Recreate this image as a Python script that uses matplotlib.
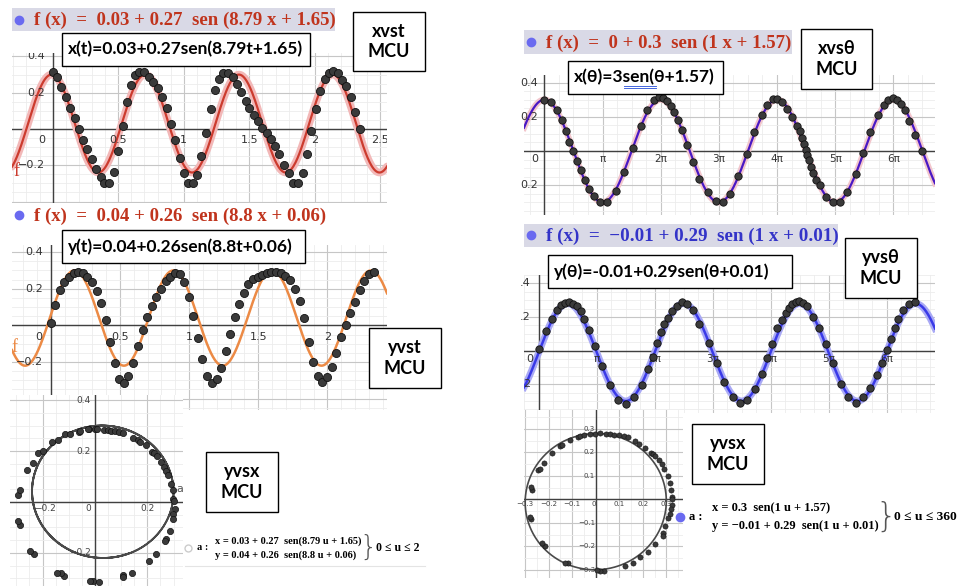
import numpy as np
import matplotlib.pyplot as plt
from matplotlib.patches import Rectangle
from matplotlib.lines import Line2D
from matplotlib.ticker import MultipleLocator

# ---- datos ----
# x vs t
xt_t = [0.000, 0.036, 0.066, 0.102, 0.132, 0.168, 0.198, 0.232, 0.265, 0.298,
        0.333, 0.366, 0.394, 0.433, 0.468, 0.501, 0.534, 0.567, 0.601, 0.631,
        0.662, 0.697, 0.735, 0.768, 0.804, 0.837, 0.870, 0.903, 0.936, 0.969,
        1.000, 1.036, 1.069, 1.102, 1.135, 1.170, 1.204, 1.237, 1.270, 1.303,
        1.336, 1.372, 1.405, 1.435, 1.471, 1.501, 1.534, 1.567, 1.598, 1.634,
        1.664, 1.697, 1.730, 1.766, 1.799, 1.832, 1.870, 1.906, 1.939, 1.972,
        2.005, 2.041, 2.074, 2.107, 2.140, 2.173, 2.206, 2.239, 2.275, 2.308, 2.341]
xt_x = [0.313, 0.284, 0.233, 0.178, 0.115, 0.058, 0.000, -0.062, -0.113, -0.167,
        -0.222, -0.267, -0.298, -0.295, -0.236, -0.124, 0.018, 0.149, 0.242, 0.296,
        0.316, 0.315, 0.287, 0.260, 0.224, 0.178, 0.115, 0.029, -0.062, -0.160,
        -0.242, -0.295, -0.300, -0.253, -0.149, -0.022, 0.113, 0.215, 0.278, 0.309,
        0.309, 0.287, 0.247, 0.202, 0.156, 0.118, 0.078, 0.042, 0.005, -0.022,
        -0.055, -0.095, -0.140, -0.198, -0.244, -0.295, -0.295, -0.240, -0.138, -0.009,
        0.111, 0.211, 0.276, 0.309, 0.318, 0.311, 0.269, 0.236, 0.175, 0.091, 0.000]
xt_fit = [0.03, 0.27, 8.79, 1.65]

# y vs t
yt_t = [0.000, 0.034, 0.065, 0.099, 0.133, 0.166, 0.200, 0.234, 0.265, 0.299,
        0.333, 0.364, 0.398, 0.431, 0.465, 0.496, 0.528, 0.561, 0.598, 0.634,
        0.667, 0.699, 0.733, 0.764, 0.798, 0.831, 0.865, 0.899, 0.933, 0.964,
        0.998, 1.031, 1.063, 1.096, 1.130, 1.164, 1.198, 1.229, 1.263, 1.296,
        1.330, 1.361, 1.395, 1.429, 1.463, 1.496, 1.530, 1.564, 1.595, 1.629,
        1.663, 1.696, 1.730, 1.764, 1.800, 1.831, 1.865, 1.896, 1.928, 1.961,
        1.995, 2.031, 2.065, 2.099, 2.133, 2.166, 2.200, 2.234, 2.267, 2.301, 2.335]
yt_y = [0.011, 0.113, 0.193, 0.236, 0.265, 0.284, 0.291, 0.287, 0.265, 0.235,
        0.189, 0.124, 0.029, -0.089, -0.204, -0.293, -0.316, -0.275, -0.204, -0.113,
        -0.025, 0.047, 0.105, 0.156, 0.200, 0.240, 0.265, 0.284, 0.280, 0.236,
        0.156, 0.051, -0.071, -0.185, -0.275, -0.313, -0.293, -0.231, -0.140, -0.047,
        0.044, 0.116, 0.178, 0.225, 0.251, 0.265, 0.276, 0.287, 0.293, 0.293,
        0.284, 0.269, 0.247, 0.200, 0.133, 0.038, -0.089, -0.198, -0.275, -0.309,
        -0.280, -0.225, -0.149, -0.062, 0.002, 0.065, 0.129, 0.193, 0.244, 0.280, 0.291]
yt_fit = [0.04, 0.26, 8.8, 0.06]

# y vs x (t)
cx_x = [0.000, -0.022, 0.009, 0.036, 0.048, 0.061, 0.076, 0.092, 0.108, 0.146,
        0.166, 0.172, 0.194, 0.217, 0.225, 0.238, 0.252, 0.265, 0.273, 0.278,
        0.289, 0.297, 0.299, 0.301, 0.304, 0.299, 0.297, 0.287, 0.270, 0.268,
        0.232, 0.205, 0.140, 0.106, 0.108, -0.006, -0.019, 0.014, -0.118, -0.131,
        -0.144, -0.232, -0.246, -0.287, -0.293, -0.293, -0.287, -0.259, -0.236, -0.217,
        -0.200, -0.163, -0.140, -0.115, -0.096, -0.061, -0.057, -0.025]
cx_y = [0.285, 0.285, 0.285, 0.282, 0.281, 0.280, 0.277, 0.273, 0.269, 0.252,
        0.243, 0.235, 0.222, 0.197, 0.191, 0.180, 0.157, 0.139, 0.122, 0.107,
        0.069, 0.047, 0.012, 0.005, -0.029, -0.048, -0.068, -0.115, -0.145, -0.152,
        -0.204, -0.230, -0.277, -0.288, -0.295, -0.311, -0.310, -0.314, -0.290, -0.280,
        -0.277, -0.205, -0.191, -0.090, -0.075, 0.027, 0.047, 0.125, 0.154, 0.191,
        0.200, 0.234, 0.243, 0.265, 0.267, 0.276, 0.278, 0.285]

# x vs theta
xth_th = [0.000, 0.360, 0.666, 0.936, 1.170, 1.350, 1.566, 1.764, 1.962, 2.196,
          2.430, 2.700, 3.007, 3.367, 3.853, 4.303, 4.771, 5.203, 5.563, 5.923,
          6.211, 6.427, 6.643, 6.841, 7.021, 7.201, 7.417, 7.705, 8.047, 8.371,
          8.821, 9.272, 9.632, 10.028, 10.478, 10.928, 11.324, 11.738, 12.044, 12.332,
          12.584, 12.854, 13.124, 13.394, 13.628, 13.808, 13.934, 14.024, 14.132, 14.204,
          14.312, 14.420, 14.528, 14.672, 14.888, 15.212, 15.609, 15.969, 16.365, 16.833,
          17.229, 17.589, 18.003, 18.345, 18.579, 18.813, 19.029, 19.263, 19.479, 19.713,
          20.037, 20.379]
xth_x = [0.300, 0.284, 0.237, 0.182, 0.118, 0.055, 0.000, -0.057, -0.112, -0.167,
         -0.220, -0.265, -0.298, -0.298, -0.233, -0.124, 0.020, 0.147, 0.241, 0.296,
         0.316, 0.310, 0.290, 0.261, 0.227, 0.182, 0.124, 0.035, -0.063, -0.161,
         -0.239, -0.294, -0.298, -0.249, -0.147, -0.020, 0.110, 0.212, 0.271, 0.306,
         0.304, 0.284, 0.245, 0.198, 0.147, 0.114, 0.075, 0.041, 0.006, -0.024,
         -0.053, -0.092, -0.131, -0.167, -0.200, -0.269, -0.298, -0.298, -0.239, -0.135,
         -0.010, 0.110, 0.208, 0.271, 0.300, 0.310, 0.296, 0.276, 0.237, 0.178,
         0.092, 0.000]
xth_fit = [0, 0.3, 1, 1.57]

# y vs theta
yth_th = [0.000, 0.380, 0.687, 0.958, 1.193, 1.428, 1.645, 1.862, 2.043, 2.260,
          2.440, 2.729, 3.037, 3.416, 3.850, 4.284, 4.718, 5.170, 5.567, 5.929,
          6.200, 6.417, 6.616, 6.797, 6.977, 7.212, 7.465, 7.737, 8.044, 8.369,
          8.695, 9.219, 9.635, 10.032, 10.502, 10.900, 11.298, 11.713, 12.075, 12.382,
          12.617, 12.888, 13.159, 13.394, 13.557, 13.738, 13.937, 14.117, 14.298, 14.515,
          14.877, 15.202, 15.563, 15.961, 16.359, 16.775, 17.190, 17.588, 17.949, 18.311,
          18.582, 18.853, 19.070, 19.287, 19.486, 19.757, 20.082, 20.390]
yth_y = [0.008, 0.114, 0.189, 0.243, 0.269, 0.283, 0.287, 0.279, 0.263, 0.233,
         0.187, 0.124, 0.028, -0.092, -0.205, -0.295, -0.315, -0.275, -0.205, -0.112,
         -0.036, 0.048, 0.108, 0.157, 0.193, 0.233, 0.267, 0.287, 0.279, 0.243,
         0.157, 0.048, -0.072, -0.189, -0.275, -0.311, -0.295, -0.231, -0.139, -0.046,
         0.040, 0.133, 0.183, 0.223, 0.253, 0.279, 0.291, 0.293, 0.283, 0.263,
         0.203, 0.133, 0.040, -0.072, -0.199, -0.275, -0.311, -0.275, -0.225, -0.145,
         -0.072, 0.004, 0.072, 0.133, 0.187, 0.243, 0.275, 0.287]
yth_fit = [-0.01, 0.29, 1, 0.01]

# y vs x (theta)
cth_x = [-0.003, 0.018, 0.044, 0.061, 0.078, 0.099, 0.121, 0.139, 0.167, 0.186,
         0.211, 0.234, 0.245, 0.254, 0.268, 0.281, 0.292, 0.309, 0.316, 0.319,
         0.323, 0.326, 0.323, 0.319, 0.316, 0.309, 0.295, 0.288, 0.285, 0.254,
         0.221, 0.189, 0.160, 0.126, 0.037, 0.018, 0.004, -0.116, -0.130, -0.216,
         -0.230, -0.277, -0.279, -0.272, -0.277, -0.244, -0.237, -0.218, -0.187, -0.152,
         -0.145, -0.109, -0.077, -0.067, -0.052, -0.024]
cth_y = [0.278, 0.281, 0.278, 0.277, 0.275, 0.272, 0.270, 0.264, 0.248, 0.235,
         0.220, 0.199, 0.191, 0.184, 0.167, 0.149, 0.128, 0.101, 0.068, 0.040,
         0.011, 0.000, -0.024, -0.043, -0.064, -0.081, -0.113, -0.142, -0.156, -0.191,
         -0.223, -0.244, -0.270, -0.284, -0.306, -0.305, -0.301, -0.272, -0.270, -0.199,
         -0.187, -0.085, -0.074, 0.040, 0.051, 0.125, 0.130, 0.156, 0.199, 0.228,
         0.233, 0.252, 0.267, 0.270, 0.274, 0.278]

W, H = 957, 586
fig = plt.figure(figsize=(W / 100, H / 100), dpi=100)
fig.patch.set_facecolor('white')

SERIF = ['Liberation Serif', 'DejaVu Serif']
SANS = ['Lato', 'DejaVu Sans']
DOT = '#3a3a3a'


def panel(l, t, r, b, z=0):
    ax = fig.add_axes([l / W, 1 - b / H, (r - l) / W, (b - t) / H], zorder=z)
    for s in ax.spines.values():
        s.set_visible(False)
    ax.tick_params(which='both', length=0, labelbottom=False, labelleft=False)
    return ax


def rejilla(ax, xmaj, xmin, ymaj, ymin):
    ax.xaxis.set_major_locator(MultipleLocator(xmaj))
    ax.xaxis.set_minor_locator(MultipleLocator(xmin))
    ax.yaxis.set_major_locator(MultipleLocator(ymaj))
    ax.yaxis.set_minor_locator(MultipleLocator(ymin))
    ax.grid(which='minor', color='#ececec', lw=0.6)
    ax.grid(which='major', color='#c6c6c6', lw=0.8)
    ax.set_axisbelow(True)
    ax.axhline(0, color='#404040', lw=1.0, zorder=1)
    ax.axvline(0, color='#404040', lw=1.0, zorder=1)


def ftext(x, y, s, **kw):
    return fig.text(x / W, 1 - y / H, s, **kw)


def caja(l, t, r, b, s, size, ha='center', lw=1.0, ec='black'):
    fig.add_artist(Rectangle((l / W, 1 - b / H), (r - l) / W, (b - t) / H,
                             transform=fig.transFigure, fc='white', ec=ec,
                             lw=lw, zorder=5))
    x = (l + r) / 2 if ha == 'center' else l + 6
    ftext(x, (t + b) / 2, s, ha=ha, va='center', fontsize=size, family=SANS,
          fontweight='bold', linespacing=1.25, zorder=6)


def punto(x, y, color, filled=True, ms=6):
    fig.add_artist(Line2D([x / W], [1 - y / H], transform=fig.transFigure,
                          marker='o', ms=ms, mfc=color if filled else 'white',
                          mec=color, ls='none', zorder=6))


def cabecera(l, t, r, b, s, color, bg=True, size=13.5):
    if bg:
        fig.add_artist(Rectangle((l / W, 1 - b / H), (r - l) / W, (b - t) / H,
                                 transform=fig.transFigure, fc='#d9d9e6',
                                 ec='none', zorder=4))
    punto(l + 7, (t + b) / 2, '#6a6af0')
    ftext(l + 22, (t + b) / 2 + 1, s, ha='left', va='center', fontsize=size,
          family=SERIF, fontweight='bold', color=color, zorder=6)


def seno(p, x):
    return p[0] + p[1] * np.sin(p[2] * x + p[3])


# ---------- x vs t ----------
ax1 = panel(12, 53, 387, 203)
ax1.set_xlim(-0.31, 2.55)
ax1.set_ylim(-0.408, 0.419)
rejilla(ax1, 0.5, 0.1, 0.2, 0.05)
tt = np.linspace(-0.31, 2.55, 600)
ax1.plot(tt, seno(xt_fit, tt), color='#f2b8b8', lw=5.5, zorder=2, solid_capstyle='round')
ax1.plot(tt, seno(xt_fit, tt), color='#cc3b2e', lw=1.6, zorder=3)
ax1.scatter(xt_t, xt_x, s=34, color=DOT, edgecolor='#111111', lw=0.6, zorder=4)
for v, s in [(0.5, '0.5'), (1, '1'), (1.5, '1.5'), (2, '2'), (2.5, '2.5')]:
    ax1.text(v, -0.06, s, ha='center', va='center', fontsize=8, color='#333333', clip_on=True)
ax1.text(-0.08, -0.06, '0', ha='center', va='center', fontsize=8, color='#333333')
for v, s in [(0.2, '0.2'), (-0.2, '\u22120.2'), (0.4, '0.4')]:
    ax1.text(-0.06, v, s, ha='right', va='center', fontsize=8, color='#333333', clip_on=True)
ax1.text(-0.28, -0.235, 'f', ha='center', va='center', fontsize=13, family=SERIF,
         color='#cc3b2e')

# ---------- y vs t ----------
ax2 = panel(12, 245, 387, 410)
ax2.set_xlim(-0.28, 2.43)
ax2.set_ylim(-0.462, 0.439)
rejilla(ax2, 0.5, 0.1, 0.2, 0.05)
tt = np.linspace(-0.28, 2.43, 600)
ax2.plot(tt, seno(yt_fit, tt), color='#ec8a45', lw=1.8, zorder=3)
ax2.scatter(yt_t, yt_y, s=34, color=DOT, edgecolor='#111111', lw=0.6, zorder=4)
for v, s in [(0.5, '0.5'), (1, '1'), (1.5, '1.5'), (2, '2')]:
    ax2.text(v, -0.064, s, ha='center', va='center', fontsize=8, color='#333333')
ax2.text(-0.087, -0.064, '0', ha='center', va='center', fontsize=8, color='#333333')
for v, s in [(0.2, '0.2'), (-0.2, '\u22120.2'), (0.4, '0.4')]:
    ax2.text(-0.058, v, s, ha='right', va='center', fontsize=8, color='#333333')
ax2.text(-0.265, -0.12, 'f', ha='center', va='center', fontsize=13, family=SERIF,
         color='#ec8a45')

# ---------- y vs x (t) ----------
ax3 = panel(10, 395, 183, 586, z=1)
ax3.set_facecolor('white')
ax3.set_xlim(-0.324, 0.336)
ax3.set_ylim(-0.33, 0.42)
rejilla(ax3, 0.2, 0.05, 0.2, 0.05)
uu = np.linspace(0, 2, 1500)
ax3.plot(seno(xt_fit, uu), seno(yt_fit, uu), color='#4a4a4a', lw=1.3, zorder=3)
ax3.scatter(cx_x, cx_y, s=20, color=DOT, edgecolor='#111111', lw=0.5, zorder=4)
for v, s in [(-0.19, '\u22120.2'), (-0.027, '0'), (0.2, '0.2')]:
    ax3.text(v, -0.027, s, ha='center', va='center', fontsize=6.5, color='#444444')
for v, s in [(0.4, '0.4'), (0.2, '0.2'), (-0.2, '\u22120.2')]:
    ax3.text(-0.016, v, s, ha='right', va='center', fontsize=6.5, color='#444444', clip_on=True)
ax3.text(0.324, 0.05, 'a', ha='center', va='center', fontsize=8, color='#555555')

# ---------- x vs theta ----------
ax4 = panel(524, 75, 935, 215)
ax4.set_xlim(-1.10, 21.1)
ax4.set_ylim(-0.374, 0.444)
rejilla(ax4, np.pi, np.pi / 4, 0.2, 0.05)
th = np.linspace(-1.1, 21.1, 800)
ax4.plot(th, seno(xth_fit, th), color='#f2c6cc', lw=4.5, zorder=2)
ax4.plot(th, seno(xth_fit, th), color='#4a18c4', lw=1.6, zorder=3)
ax4.scatter(xth_th, xth_x, s=28, color=DOT, edgecolor='#111111', lw=0.6, zorder=4)
pis = ['\u03c0', '2\u03c0', '3\u03c0', '4\u03c0', '5\u03c0', '6\u03c0']
for k, s in enumerate(pis):
    ax4.text((k + 1) * np.pi, -0.047, s, ha='center', va='center', fontsize=7.5,
             color='#333333', family=['DejaVu Sans'])
ax4.text(-0.5, -0.047, '0', ha='center', va='center', fontsize=8, color='#333333')
for v, s in [(0.4, '0.4'), (0.2, '0.2'), (-0.2, '0.2')]:
    ax4.text(-0.34, v, s, ha='right', va='center', fontsize=8, color='#333333')

# ---------- y vs theta ----------
ax5 = panel(524, 275, 935, 413)
ax5.set_xlim(-0.81, 21.47)
ax5.set_ylim(-0.371, 0.45)
rejilla(ax5, np.pi, np.pi / 4, 0.2, 0.05)
th = np.linspace(-0.81, 21.47, 800)
ax5.plot(th, seno(yth_fit, th), color='#a9a9f5', lw=5, zorder=2)
ax5.plot(th, seno(yth_fit, th), color='#3a3ae8', lw=1.8, zorder=3)
for k, s in enumerate(pis):
    ax5.text((k + 1) * np.pi, -0.047, s, ha='center', va='center', fontsize=7.5,
             color='#333333', family=['DejaVu Sans'])
ax5.scatter(yth_th, yth_y, s=28, color=DOT, edgecolor='#111111', lw=0.6, zorder=4)
ax5.text(-0.49, -0.047, '0', ha='center', va='center', fontsize=8, color='#333333')
for v, s in [(0.4, '.4'), (0.2, '.2'), (-0.2, '2')]:
    ax5.text(-0.45, v, s, ha='right', va='center', fontsize=8, color='#333333')

# ---------- y vs x (theta) ----------
ax6 = panel(524, 410, 683, 578, z=1)
ax6.set_facecolor('white')
ax6.set_xlim(-0.305, 0.371)
ax6.set_ylim(-0.335, 0.38)
rejilla(ax6, 0.1, 0.05, 0.1, 0.05)
uu = np.linspace(0, 2 * np.pi, 600)
ax6.plot(0.3 * np.sin(uu + 1.57), -0.01 + 0.29 * np.sin(uu + 0.01),
         color='#4a4a4a', lw=1.2, zorder=3)
ax6.scatter(cth_x, cth_y, s=14, color=DOT, edgecolor='#111111', lw=0.4, zorder=4)
for v in [-0.3, -0.2, -0.1, 0.1, 0.2, 0.3]:
    ax6.text(v, -0.02, ('\u2212%.1f' % -v) if v < 0 else '%.1f' % v, ha='center',
             va='center', fontsize=5, color='#444444')
ax6.text(-0.007, -0.02, '0', ha='center', va='center', fontsize=5, color='#444444')
for v in [0.3, 0.2, 0.1, -0.1, -0.2, -0.3]:
    ax6.text(-0.003, v, ('\u2212%.1f' % -v) if v < 0 else '%.1f' % v, ha='right',
             va='center', fontsize=5, color='#444444')

# ---------- cabeceras y cajas ----------
cabecera(12, 8, 335, 31, 'f (x)  =  0.03 + 0.27  sen (8.79 x + 1.65)', '#c0341d')
cabecera(12, 204, 345, 226, 'f (x)  =  0.04 + 0.26  sen (8.8 x + 0.06)', '#c0341d', bg=False)
cabecera(524, 30, 792, 54, 'f (x)  =  0 + 0.3  sen (1 x + 1.57)', '#c0341d')
cabecera(524, 224, 838, 247, 'f (x)  =  \u22120.01 + 0.29  sen (1 x + 0.01)', '#3434c8',
         size=13.7)

caja(62, 33, 310, 66, 'x(t)=0.03+0.27sen(8.79t+1.65)', 12.5, ha='left')
caja(353, 12, 425, 71, 'xvst\nMCU', 13)
caja(62, 230, 305, 263, 'y(t)=0.04+0.26sen(8.8t+0.06)', 12.5, ha='left')
caja(369, 328, 441, 388, 'yvst\nMCU', 13)
caja(206, 452, 278, 512, 'yvsx\nMCU', 13)
caja(568, 61, 723, 94, 'x(\u03b8)=3sen(\u03b8+1.57)', 12.5, ha='left')
caja(801, 29, 872, 89, 'xvs\u03b8\nMCU', 13)
caja(548, 255, 792, 288, 'y(\u03b8)=-0.01+0.29sen(\u03b8+0.01)', 12.5, ha='left')
caja(845, 238, 917, 298, 'yvs\u03b8\nMCU', 13)
caja(692, 424, 764, 484, 'yvsx\nMCU', 13)

# subrayado doble (corrector) bajo "sen("
for yy in (85.5, 88):
    fig.add_artist(Line2D([624 / W, 656 / W], [1 - yy / H, 1 - yy / H],
                          transform=fig.transFigure, color='#4466dd', lw=0.7, zorder=7))

# ---------- ecuaciones parametricas ----------
punto(188, 548, '#cccccc', filled=False, ms=5)
ftext(197, 548, 'a :', ha='left', va='center', fontsize=7.5, family=SERIF, fontweight='bold')
ftext(215, 541, 'x = 0.03 + 0.27  sen(8.79 u + 1.65)', ha='left', va='center',
      fontsize=7.5, family=SERIF, fontweight='bold')
ftext(215, 555, 'y = 0.04 + 0.26  sen(8.8 u + 0.06)', ha='left', va='center',
      fontsize=7.5, family=SERIF, fontweight='bold')
ftext(368, 548, '}', ha='center', va='center', fontsize=20, family=['DejaVu Sans'],
      fontweight='light', color='#555555')
ftext(376, 548, '0 \u2264 u \u2264 2', ha='left', va='center', fontsize=8.5,
      family=SERIF, fontweight='bold')
fig.add_artist(Line2D([185 / W, 425 / W], [1 - 566 / H, 1 - 566 / H],
                      transform=fig.transFigure, color='#e4e4e4', lw=0.8))

punto(680, 517, '#6a6af0', ms=6)
ftext(689, 517, 'a :', ha='left', va='center', fontsize=9, family=SERIF, fontweight='bold')
ftext(712, 508, 'x = 0.3  sen(1 u + 1.57)', ha='left', va='center',
      fontsize=9, family=SERIF, fontweight='bold')
ftext(712, 526, 'y = \u22120.01 + 0.29  sen(1 u + 0.01)', ha='left', va='center',
      fontsize=9, family=SERIF, fontweight='bold')
ftext(886, 517, '}', ha='center', va='center', fontsize=24, family=['DejaVu Sans'],
      fontweight='light', color='#555555')
ftext(894, 517, '0 \u2264 u \u2264 360', ha='left', va='center', fontsize=9.7,
      family=SERIF, fontweight='bold')

fig.savefig('out.png', dpi=100, facecolor='white')
